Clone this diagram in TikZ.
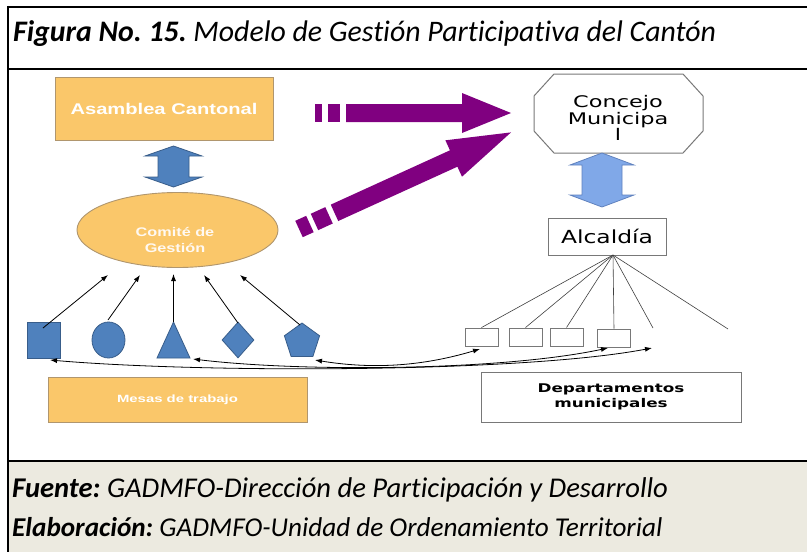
\documentclass[tikz,border=0pt]{standalone}
\usepackage{fontspec}
\usepackage{graphicx}
\setmainfont{Carlito}[Ligatures=CommonOff]
\newfontfamily\arialf{Liberation Sans}
\newfontfamily\verdf{DejaVu Sans}
\usetikzlibrary{shapes.geometric,arrows.meta}
\definecolor{orfill}{RGB}{250,199,106}
\definecolor{ordraw}{RGB}{176,150,110}
\definecolor{bluef}{RGB}{79,129,189}
\definecolor{blued}{RGB}{56,93,138}
\definecolor{lbluef}{RGB}{128,168,232}
\definecolor{lblued}{RGB}{96,130,190}
\definecolor{purp}{RGB}{128,0,128}
\definecolor{beige}{RGB}{236,234,224}
\definecolor{greyd}{RGB}{120,120,120}
\newcommand{\hst}[2]{\scalebox{#1}[1]{#2}}
\frenchspacing
\tikzset{
  orbox/.style={draw=ordraw, line width=0.9pt, fill=orfill, text=white, inner sep=0pt},
  bshape/.style={draw=blued, line width=0.8pt, fill=bluef},
  wbox/.style={draw=greyd, line width=0.9pt, fill=white, inner sep=0pt},
  conn/.style={draw=black, line width=0.8pt, -{Latex[length=7pt,width=5pt]}},
  dconn/.style={draw=black, line width=0.8pt, {Latex[length=7pt,width=5pt]}-{Latex[length=7pt,width=5pt]}},
  fan/.style={draw=black!75, line width=0.6pt},
  frame/.style={draw=black, line width=2.2pt},
  captxt/.style={anchor=base west, inner sep=0pt, font=\fontsize{28}{32}\selectfont\itshape},
}
\begin{document}
\begin{tikzpicture}[x=1pt,y=-1pt]
\useasboundingbox (0,0) rectangle (807,552);
\fill[white] (0,0) rectangle (807,552);
% footer background
\fill[beige] (8,461) rectangle (807,552);
% frame lines
\draw[frame] (8,7) -- (807,7);
\draw[frame] (8,69) -- (807,69);
\draw[frame] (8,461) -- (807,461);
\draw[frame] (8,5.9) -- (8,552);
% title
\node[captxt, font=\fontsize{29.8}{32}\selectfont\itshape] (title) at (13,41)
  {\textbf{Figura No. 15.} Modelo de Gestión Participativa del Cantón};
% footer
\node[captxt, font=\fontsize{28.6}{32}\selectfont\itshape] (fuente) at (12,497)
  {\textbf{Fuente:} GADMFO-Dirección de Participación y Desarrollo};
\node[captxt, font=\fontsize{27.2}{32}\selectfont\itshape] (elab) at (12,536)
  {\textbf{Elaboración:} GADMFO-Unidad de Ordenamiento Territorial};

% Asamblea
\node[orbox, minimum width=218pt, minimum height=63pt, font=\arialf\bfseries\fontsize{15.5}{18}\selectfont] (asam) at (164,108.5)
  {\hst{1.3}{Asamblea Cantonal}};
% left blue double arrow
\draw[bshape] (173.5,146) -- (202,156) -- (189,156) -- (189,177) -- (202,177) -- (173.5,187)
  -- (145,177) -- (158,177) -- (158,156) -- (145,156) -- cycle;
% Comite ellipse
\node[ellipse, orbox, minimum width=201pt, minimum height=75pt] (com) at (177.5,230) {};
\node[text=white!95!orange, font=\arialf\bfseries\fontsize{12.5}{15.5}\selectfont, align=center] (comt) at (175,240)
  {\hst{1.3}{Comité de}\\\hst{1.3}{Gestión}};

% purple arrow 1
\fill[purp] (315,104) rectangle (322,122);
\fill[purp] (328,104) rectangle (340,122);
\fill[purp] (346,104) -- (462,104) -- (462,93) -- (511,113) -- (462,133) -- (462,122) -- (346,122) -- cycle;
% purple arrow 2
\begin{scope}[shift={(299,229)}, rotate=24.5]
\fill[purp] (0,-9) rectangle (12,9);
\fill[purp] (17,-9) rectangle (33,9);
\fill[purp] (39,-9) -- (170,-9) -- (170,-20) -- (233,0) -- (170,20) -- (170,9) -- (39,9) -- cycle;
\end{scope}

% Concejo octagon
\draw[draw=greyd, line width=1pt, fill=white] (554,74) -- (683,74) -- (703,96) -- (703,131) -- (683,153)
  -- (554,153) -- (534,131) -- (534,96) -- cycle;
\node[align=center, font=\verdf\fontsize{16}{17.5}\selectfont, inner sep=0pt] (conc) at (618,117.5)
  {\hst{1.4}{Concejo}\\\hst{1.4}{Municipa}\\[-2pt]\hst{1.4}{l}};
% right blue double arrow
\draw[draw=lblued, line width=0.8pt, fill=lbluef] (602,153) -- (634,165) -- (622,165) -- (622,195) -- (634,195) -- (602,207)
  -- (570,195) -- (582,195) -- (582,165) -- (570,165) -- cycle;
% Alcaldia
\node[wbox, minimum width=118pt, minimum height=37pt, font=\verdf\fontsize{18}{21}\selectfont] (alc) at (607,236.5)
  {\hst{1.3}{Alcaldía}};
\coordinate (alcb) at (613,255);
% small department boxes
\node[wbox, minimum width=33pt, minimum height=18pt] (d1) at (481.5,337) {};
\node[wbox, minimum width=33pt, minimum height=18pt] (d2) at (525.5,337) {};
\node[wbox, minimum width=33pt, minimum height=18pt] (d3) at (566.5,337) {};
\node[wbox, minimum width=33pt, minimum height=18pt] (d4) at (614,338) {};
\coordinate (f5) at (653,328);
\coordinate (f6) at (728,329);
\draw[fan] (alcb) -- (d1.north);
\draw[fan] (alcb) -- (d2.north);
\draw[fan] (alcb) -- (d3.north);
\draw[fan] (alcb) -- (d4.north);
\draw[fan] (alcb) -- (f5);
\draw[fan] (alcb) -- (f6);

% blue shapes
\node[bshape, rectangle, minimum width=33pt, minimum height=36pt, inner sep=0pt] (sq) at (43.5,340) {};
\node[bshape, ellipse, minimum width=33pt, minimum height=36pt, inner sep=0pt] (ci) at (108.5,340) {};
\draw[bshape] (173.5,322) -- (190,358) -- (157,358) -- cycle;
\coordinate (tri) at (173.5,322);
\node[bshape, diamond, minimum width=32pt, minimum height=36pt, inner sep=0pt] (dia) at (238,340) {};
\node[bshape, regular polygon, regular polygon sides=5, minimum size=37pt, inner sep=0pt] (pen) at (302,341.5) {};

% arrows to comite
\coordinate (e1) at (108,275);
\coordinate (e2) at (140,275);
\coordinate (e3) at (173.5,274);
\coordinate (e4) at (204,275);
\coordinate (e5) at (240,275);
\coordinate (s1) at (43,328);
\coordinate (s2) at (108,320);
\coordinate (s4) at (238,323);
\coordinate (s5) at (300,325);
\draw[conn] (s1) -- (e1);
\draw[conn] (s2) -- (e2);
\draw[conn] (tri) -- (e3);
\draw[conn] (s4) -- (e4);
\draw[conn] (s5) -- (e5);

% curved double arrows
\coordinate (sqc) at (50,360);
\coordinate (tric) at (193,359);
\coordinate (penc) at (315,360);
\coordinate (d1b) at (480,349);
\coordinate (d4b) at (608,348);
\coordinate (g3) at (652,348);
\draw[dconn] (sqc) .. controls (200,373) and (520,373) .. (g3);
\draw[dconn] (tric) .. controls (300,372) and (500,371) .. (d4b);
\draw[dconn] (penc) .. controls (370,369) and (420,367) .. (d1b);

% bottom boxes
\node[orbox, minimum width=259pt, minimum height=45pt, font=\arialf\bfseries\fontsize{10.5}{12}\selectfont] (mesas) at (177.5,399.5)
  {\hst{1.42}{Mesas de trabajo}};
\node[wbox, minimum width=260pt, minimum height=50pt, align=center, font=\verdf\bfseries\fontsize{12}{15}\selectfont] (dep) at (611,397)
  {\hst{1.4}{Departamentos}\\\hst{1.4}{municipales}};
\end{tikzpicture}
\end{document}
